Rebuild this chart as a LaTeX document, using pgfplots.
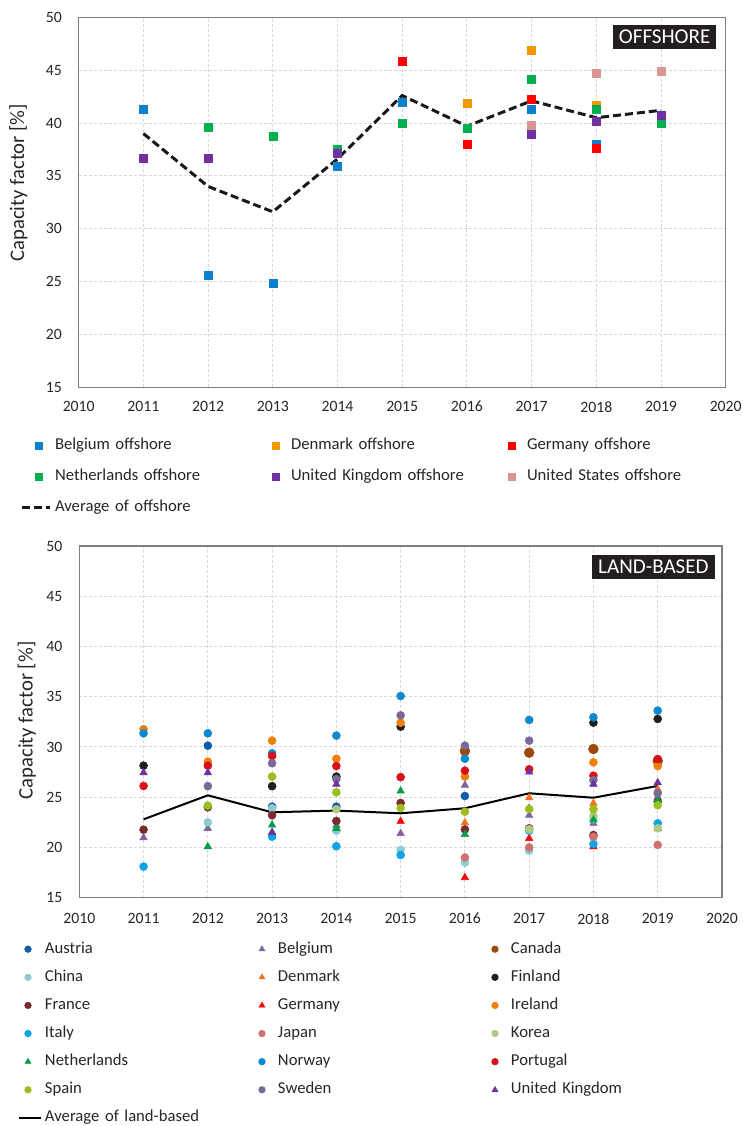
\documentclass[border=0pt]{standalone}
\usepackage{fontspec}
\setmainfont{Carlito}
\usepackage{pgfplots}
\pgfplotsset{compat=1.18}

\definecolor{gridgrey}{HTML}{D9D9D9}
\definecolor{axisgrey}{HTML}{7F7F7F}
\definecolor{titlebg}{HTML}{231F20}
% offshore
\definecolor{obel}{HTML}{0A80CF}
\definecolor{oden}{HTML}{F39800}
\definecolor{oger}{HTML}{FF0000}
\definecolor{onet}{HTML}{00B050}
\definecolor{ouk}{HTML}{7030A0}
\definecolor{ous}{HTML}{DA9694}
% land
\definecolor{caus}{HTML}{0F5DAA}
\definecolor{cbel}{HTML}{8064A2}
\definecolor{ccan}{HTML}{9E480E}
\definecolor{cchi}{HTML}{8CCBD3}
\definecolor{cden}{HTML}{F36F21}
\definecolor{cfin}{HTML}{1F1F1F}
\definecolor{cfra}{HTML}{7A2B2B}
\definecolor{cger}{HTML}{FF0000}
\definecolor{cire}{HTML}{F07F09}
\definecolor{cita}{HTML}{0AA5E6}
\definecolor{cjap}{HTML}{D07070}
\definecolor{ckor}{HTML}{ADCB85}
\definecolor{cnet}{HTML}{009E49}
\definecolor{cnor}{HTML}{0A88D0}
\definecolor{cpor}{HTML}{D7101A}
\definecolor{cspa}{HTML}{9ABF1F}
\definecolor{cswe}{HTML}{796A99}
\definecolor{cuk}{HTML}{7030A0}

\pgfplotsset{
  cfstyle/.style={
    scale only axis,
    xmin=2010, xmax=2020, ymin=15, ymax=50,
    xtick={2010,2011,...,2020}, ytick={15,20,...,50},
    /pgf/number format/assume math mode=true,
    /pgf/number format/1000 sep={},
    grid=major,
    grid style={dash pattern=on 2.25pt off 1.5pt, color=gridgrey, line width=0.75pt},
    axis line style={draw=axisgrey, line width=1pt},
    major tick length=0pt,
    tick style={draw=none},
    ticklabel style={font=\fontsize{11.8}{13}\selectfont, text=black!85},
    yticklabel style={anchor=east, inner xsep=0pt, xshift=-12.5pt},
    xticklabel style={anchor=north, inner ysep=0pt, yshift=-10.3pt},
    ylabel={Capacity factor [\%]},
    legend columns=3,
    legend cell align=left,
    legend image post style={mark size=2.5pt},
  },
  mk/.style={only marks, mark=square*, mark size=3pt, color=#1, mark options={fill=#1, draw=#1}},
  mc/.style={only marks, mark=*, mark size=3pt, color=#1, mark options={fill=#1, draw=#1}},
  mt/.style={only marks, mark=triangle*, mark size=3.2pt, color=#1, mark options={fill=#1, draw=#1}},
  legmarkA/.style={legend image code/.code={\path[draw=none,fill=none] (0pt,0pt) -- (21pt,0pt);\draw[##1, /tikz/only marks] plot coordinates {(12.75pt,0pt)};}},
  legmarkB/.style={legend image code/.code={\path[draw=none,fill=none] (0pt,0pt) -- (16.5pt,0pt);\draw[##1, /tikz/only marks] plot coordinates {(6.75pt,0pt)};}},
  leglineA/.style={legend image code/.code={\draw[##1] (0pt,0pt) -- (21pt,0pt);}},
  leglineB/.style={legend image code/.code={\draw[##1] (0pt,0pt) -- (16.5pt,0pt);}},
}

\begin{document}
\fontsize{12.5}{14}\selectfont
\begin{tikzpicture}
\path[use as bounding box] (0,0) rectangle (556.5pt,-844.5pt);

% ---------------- OFFSHORE ----------------
\begin{axis}[cfstyle,
  at={(59.025pt,-290.475pt)}, anchor=south west,
  width=485.25pt, height=277.5pt,
  every axis y label/.style={at={(axis description cs:-0.0934,0.553)}, rotate=90, anchor=center, font=\fontsize{15.5}{17}\selectfont, text=black!85},
  legmarkA,
  legend style={draw=none, fill=none, inner sep=0pt, outer sep=0pt,
    at={(axis description cs:-0.0907,-0.137)}, anchor=north west,
    font=\fontsize{12.5}{14}\selectfont, text=black!85,
    nodes={text width=153pt, inner xsep=0pt, inner ysep=0pt, text height=9pt, text depth=3pt},
    row sep=10.9pt,
    /tikz/every odd column/.append style={column sep=3pt}},
]
\addplot[mk=obel] coordinates {(2011,41.3)(2012,25.6)(2013,24.8)(2014,35.9)(2015,42.0)(2017,41.3)(2018,38.0)};
\addlegendentry{Belgium offshore}
\addplot[mk=oden] coordinates {(2016,41.9)(2017,46.9)(2018,41.7)};
\addlegendentry{Denmark offshore}
\addplot[mk=oger] coordinates {(2015,45.8)(2016,38.0)(2017,42.2)(2018,37.6)};
\addlegendentry{Germany offshore}
\addplot[mk=onet] coordinates {(2012,39.6)(2013,38.7)(2014,37.5)(2015,40.0)(2016,39.5)(2017,44.1)(2018,41.3)(2019,40.0)};
\addlegendentry{Netherlands offshore}
\addplot[mk=ouk] coordinates {(2011,36.7)(2012,36.7)(2014,37.1)(2017,38.9)(2018,40.2)(2019,40.7)};
\addlegendentry{United Kingdom offshore}
\addplot[mk=ous] coordinates {(2017,39.8)(2018,44.7)(2019,44.9)};
\addlegendentry{United States offshore}
\addplot[black!90, line width=2.25pt, dash pattern=on 6pt off 3pt, mark=none, leglineA] coordinates {(2011,39.0)(2012,34.0)(2013,31.6)(2014,36.6)(2015,42.6)(2016,39.7)(2017,42.1)(2018,40.5)(2019,41.2)};
\addlegendentry{Average of offshore}
\node[fill=titlebg, text=white, font=\fontsize{15.8}{17}\selectfont, inner xsep=4.5pt, inner ysep=0pt, minimum height=17.5pt, anchor=north east] at (rel axis cs:0.986,0.979) {OFFSHORE};
\end{axis}

% ---------------- LAND-BASED ----------------
\begin{axis}[cfstyle,
  at={(59.475pt,-673.275pt)}, anchor=south west,
  width=482pt, height=263.8pt,
  xticklabel style={yshift=-1.2pt},
  every axis y label/.style={at={(axis description cs:-0.0818,0.504)}, rotate=90, anchor=center, font=\fontsize{15.5}{17}\selectfont, text=black!85},
  legmarkB,
  legend style={draw=none, fill=none, inner sep=0pt, outer sep=0pt,
    at={(axis description cs:-0.0954,-0.1235)}, anchor=north west,
    font=\fontsize{12.5}{14}\selectfont, text=black!85,
    nodes={text width=156pt, inner xsep=0pt, inner ysep=0pt, text height=9pt, text depth=3pt},
    row sep=9.1pt,
    /tikz/every odd column/.append style={column sep=2.25pt}},
]
\addplot[mc=caus] coordinates {(2012,30.13)(2013,24.06)(2014,24.06)(2016,25.12)};
\addlegendentry{Austria}
\addplot[mt=cbel] coordinates {(2011,20.97)(2012,21.9)(2013,21.5)(2014,22.2)(2015,21.4)(2016,26.2)(2017,23.2)(2018,22.4)(2019,25.0)};
\addlegendentry{Belgium}
\addplot[mc=ccan, mark size=3.7pt] coordinates {(2016,29.6)(2017,29.43)(2018,29.8)(2019,28.6)};
\addlegendentry{Canada}
\addplot[mc=cchi] coordinates {(2012,22.5)(2013,23.9)(2014,21.67)(2015,19.75)(2016,18.5)(2017,19.68)(2018,22.8)};
\addlegendentry{China}
\addplot[mt=cden] coordinates {(2016,22.47)(2017,24.95)(2018,24.4)(2019,25.8)};
\addlegendentry{Denmark}
\addplot[mc=cfin] coordinates {(2011,28.14)(2013,26.1)(2014,27.05)(2015,32.02)(2018,32.42)(2019,32.79)};
\addlegendentry{Finland}
\addplot[mc=cfra] coordinates {(2011,21.77)(2012,24.0)(2013,23.2)(2014,22.64)(2015,24.43)(2016,21.8)(2017,21.9)(2018,21.24)(2019,24.56)};
\addlegendentry{France}
\addplot[mt=cger] coordinates {(2015,22.6)(2016,17.0)(2017,20.9)(2018,20.08)(2019,21.9)};
\addlegendentry{Germany}
\addplot[mc=cire] coordinates {(2011,31.76)(2012,28.54)(2013,30.63)(2014,28.83)(2015,32.42)(2016,27.05)(2018,28.47)(2019,28.1)};
\addlegendentry{Ireland}
\addplot[mc=cita] coordinates {(2011,18.1)(2013,21.07)(2014,20.12)(2015,19.25)(2017,21.67)(2018,20.35)(2019,22.4)};
\addlegendentry{Italy}
\addplot[mc=cjap] coordinates {(2016,19.0)(2017,20.0)(2018,21.07)(2019,20.25)};
\addlegendentry{Japan}
\addplot[mc=ckor] coordinates {(2014,23.8)(2017,21.8)(2018,23.13)(2019,21.9)};
\addlegendentry{Korea}
\addplot[mt=cnet] coordinates {(2012,20.08)(2013,22.24)(2014,21.9)(2015,25.62)(2016,21.3)(2017,23.9)(2018,22.74)(2019,24.7)};
\addlegendentry{Netherlands}
\addplot[mc=cnor] coordinates {(2011,31.36)(2012,31.36)(2013,29.37)(2014,31.13)(2015,35.07)(2016,28.83)(2017,32.69)(2018,32.95)(2019,33.62)};
\addlegendentry{Norway}
\addplot[mc=cpor] coordinates {(2011,26.12)(2012,28.14)(2013,29.1)(2014,28.1)(2015,27.0)(2016,27.64)(2017,27.78)(2018,27.14)(2019,28.8)};
\addlegendentry{Portugal}
\addplot[mc=cspa] coordinates {(2012,24.16)(2013,27.05)(2014,25.49)(2015,23.93)(2016,23.56)(2017,23.83)(2018,23.8)(2019,24.2)};
\addlegendentry{Spain}
\addplot[mc=cswe] coordinates {(2012,26.1)(2013,28.38)(2014,26.8)(2015,33.15)(2016,30.13)(2017,30.63)(2018,26.7)(2019,25.4)};
\addlegendentry{Sweden}
\addplot[mt=cuk] coordinates {(2011,27.44)(2012,27.44)(2013,21.5)(2014,26.3)(2017,27.5)(2018,26.3)(2019,26.45)};
\addlegendentry{United Kingdom}
\addplot[black, line width=1.5pt, mark=none, leglineB] coordinates {(2011,22.8)(2012,25.19)(2013,23.5)(2014,23.67)(2015,23.4)(2016,23.9)(2017,25.39)(2018,24.95)(2019,26.12)};
\addlegendentry{Average of land-based}
\node[fill=titlebg, text=white, font=\fontsize{15.8}{17}\selectfont, inner xsep=4.5pt, inner ysep=0pt, minimum height=17.5pt, anchor=north east] at (rel axis cs:0.989,0.974) {LAND-BASED};
\end{axis}
\end{tikzpicture}
\end{document}
